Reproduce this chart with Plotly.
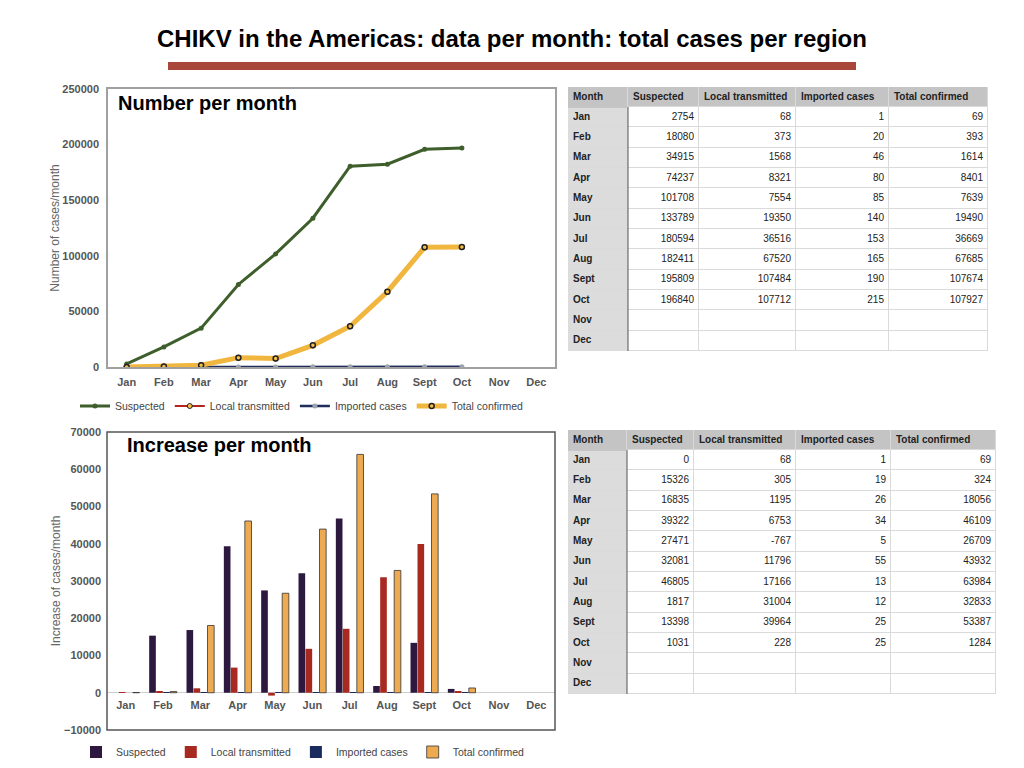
import plotly.graph_objects as go

MONTHS = ["Jan", "Feb", "Mar", "Apr", "May", "Jun", "Jul", "Aug", "Sept", "Oct", "Nov", "Dec"]
SERIES = ["Suspected", "Local transmitted", "Imported cases", "Total confirmed"]

# cumulative numbers per month
suspected = [2754, 18080, 34915, 74237, 101708, 133789, 180594, 182411, 195809, 196840, None, None]
local_tx = [68, 373, 1568, 8321, 7554, 19350, 36516, 67520, 107484, 107712, None, None]
imported = [1, 20, 46, 80, 85, 140, 153, 165, 190, 215, None, None]
total_conf = [69, 393, 1614, 8401, 7639, 19490, 36669, 67685, 107674, 107927, None, None]

# increase per month
inc_suspected = [0, 15326, 16835, 39322, 27471, 32081, 46805, 1817, 13398, 1031, None, None]
inc_local_tx = [68, 305, 1195, 6753, -767, 11796, 17166, 31004, 39964, 228, None, None]
inc_imported = [1, 19, 26, 34, 5, 55, 13, 12, 25, 25, None, None]
inc_total_conf = [69, 324, 18056, 46109, 26709, 43932, 63984, 32833, 53387, 1284, None, None]

FONT = "Liberation Sans, Arial, sans-serif"
TICK_FONT = dict(family=FONT, size=11, color="#555555", weight="bold")
AXIS_TITLE_FONT = dict(family=FONT, size=12, color="#666666")

# page body has an 8px margin, so the figure is a bit smaller than the window
OFF = 8
FIG_W, FIG_H = 1024 - OFF, 768 - OFF


def px_x(p):
    return (p - OFF) / FIG_W


def px_y(p):
    return 1 - (p - OFF) / FIG_H


fig = go.Figure()

# top chart: number per month
line_styles = [
    (suspected, dict(color="#3e5e2b", width=3), dict(size=5, color="#3e5e2b")),
    (local_tx, dict(color="#b4261b", width=2), dict(size=5, color="#f4c04a", line=dict(color="#222", width=1))),
    (imported, dict(color="#1f2d5c", width=2.5), dict(size=5, color="#9ea4ad")),
    (total_conf, dict(color="#f0b63e", width=5), dict(size=5, color="#f4c04a", line=dict(color="#222", width=1.5))),
]
for name, (vals, ln, mk) in zip(SERIES, line_styles):
    fig.add_trace(go.Scatter(
        x=MONTHS, y=vals, name=name, mode="lines+markers", line=ln, marker=mk,
        xaxis="x", yaxis="y", legend="legend",
    ))

# bottom chart: increase per month
bar_colors = ["#2d1840", "#a8291f", "#1b2b5e", "#eeaa50"]
bar_vals = [inc_suspected, inc_local_tx, inc_imported, inc_total_conf]
for name, vals, col in zip(SERIES, bar_vals, bar_colors):
    fig.add_trace(go.Bar(
        x=MONTHS, y=vals, name=name, marker_color=col,
        marker_line=dict(color="#333333", width=0.8 if name == "Total confirmed" else 0),
        xaxis="x2", yaxis="y2", legend="legend2",
    ))


def add_table(cols, widths, ax, head_h=20, row_h=20.33):
    """Table drawn on its own axes: one axis unit = one pixel."""
    xs = [0]
    for w in widths:
        xs.append(xs[-1] + w)
    ys = [0, head_h]
    for _ in MONTHS:
        ys.append(ys[-1] + row_h)
    xa, ya = "x" + ax, "y" + ax
    # grid colour showing through the gaps of the cell layer
    fig.add_trace(go.Heatmap(
        z=[[0]], x=[0, xs[-1]], y=[0, ys[-1]], colorscale=[[0, "#dadada"], [1, "#dadada"]],
        showscale=False, hoverinfo="skip", xaxis=xa, yaxis=ya,
    ))
    z = [[0] * len(widths)]
    for _ in MONTHS:
        z.append([1] + [2] * (len(widths) - 1))
    fig.add_trace(go.Heatmap(
        z=z, x=xs, y=ys, zmin=0, zmax=2, xgap=1, ygap=1, showscale=False, hoverinfo="skip",
        colorscale=[[0, "#c4c4c4"], [0.33, "#c4c4c4"], [0.34, "#dcdcdc"], [0.66, "#dcdcdc"],
                    [0.67, "white"], [1, "white"]],
        xaxis=xa, yaxis=ya,
    ))
    tx, ty, tt, tp = [], [], [], []
    for j, h in enumerate(["Month"] + SERIES):
        tx.append(xs[j] + 5)
        ty.append(head_h / 2)
        tt.append("<b>%s</b>" % h)
        tp.append("middle right")
    for i, m in enumerate(MONTHS):
        yc = (ys[i + 1] + ys[i + 2]) / 2
        tx.append(5)
        ty.append(yc)
        tt.append("<b>%s</b>" % m)
        tp.append("middle right")
        for j, c in enumerate(cols):
            if c[i] is None:
                continue
            tx.append(xs[j + 2] - 5)
            ty.append(yc)
            tt.append(str(c[i]))
            tp.append("middle left")
    fig.add_trace(go.Scatter(
        x=tx, y=ty, text=tt, mode="text", textposition=tp, hoverinfo="skip", showlegend=False,
        textfont=dict(family=FONT, size=10, color="#222222"), xaxis=xa, yaxis=ya,
    ))
    fig.add_shape(type="line", xref=xa, yref=ya, x0=xs[1], x1=xs[1], y0=head_h, y1=ys[-1],
                  line=dict(color="#555555", width=1))
    fig.add_shape(type="line", xref=xa, yref=ya, x0=0, x1=xs[1], y0=head_h, y1=head_h,
                  line=dict(color="#b0b0b0", width=1))
    return xs[-1], ys[-1]


tw3, th3 = add_table([suspected, local_tx, imported, total_conf], [60, 71, 97, 93, 99], "3")
tw4, th4 = add_table([inc_suspected, inc_local_tx, inc_imported, inc_total_conf], [59, 67, 102, 95, 105], "4")

table_axis = dict(showgrid=False, zeroline=False, showline=False, showticklabels=False, ticks="", fixedrange=True)

fig.update_layout(
    width=FIG_W, height=FIG_H,
    margin=dict(l=0, r=0, t=0, b=0, autoexpand=False),
    paper_bgcolor="white", plot_bgcolor="white",
    font=dict(family=FONT, color="#333333"),
    showlegend=True,
    barmode="group", bargap=0.25, bargroupgap=0.05,
    xaxis=dict(
        domain=[px_x(108), px_x(555)], anchor="y", type="category", categoryorder="array",
        categoryarray=MONTHS, range=[-0.5, 11.5], showgrid=False, showline=True, mirror=True,
        linecolor="#a0a0a0", linewidth=1.5, ticks="", tickfont=TICK_FONT, ticklabelstandoff=4,
    ),
    yaxis=dict(
        domain=[px_y(367), px_y(89)], anchor="x", range=[0, 250000], dtick=50000, tickformat="d",
        showgrid=False, zeroline=False, showline=True, mirror=True, linecolor="#a0a0a0", linewidth=1.5,
        tickfont=TICK_FONT, ticklabelstandoff=5,
        title=dict(text="Number of cases/month", font=AXIS_TITLE_FONT, standoff=0),
    ),
    xaxis2=dict(
        domain=[px_x(107), px_x(555)], anchor="free", position=px_y(693), type="category",
        categoryorder="array", categoryarray=MONTHS, range=[-0.5, 11.5], showgrid=False,
        showline=False, ticks="", tickfont=TICK_FONT, ticklabelstandoff=4,
    ),
    yaxis2=dict(
        domain=[px_y(730), px_y(432)], anchor="x2", range=[-10000, 70000], dtick=10000, tickformat="d",
        showgrid=False, zeroline=True, zerolinecolor="#cfcfcf", zerolinewidth=1, showline=False,
        tickfont=TICK_FONT, ticklabelstandoff=5,
        title=dict(text="Increase of cases/month", font=AXIS_TITLE_FONT, standoff=0),
    ),
    xaxis3=dict(table_axis, domain=[px_x(568), px_x(568 + tw3)], anchor="y3", range=[0, tw3]),
    yaxis3=dict(table_axis, domain=[px_y(87 + th3), px_y(87)], anchor="x3", range=[th3, 0]),
    xaxis4=dict(table_axis, domain=[px_x(568), px_x(568 + tw4)], anchor="y4", range=[0, tw4]),
    yaxis4=dict(table_axis, domain=[px_y(430 + th4), px_y(430)], anchor="x4", range=[th4, 0]),
    legend=dict(
        orientation="h", x=px_x(302), y=px_y(406), xanchor="center", yanchor="middle",
        font=dict(family=FONT, size=10.5, color="#444444"), itemwidth=30, tracegroupgap=0,
        bgcolor="rgba(0,0,0,0)",
    ),
    legend2=dict(
        orientation="h", x=px_x(303), y=px_y(752), xanchor="center", yanchor="middle",
        font=dict(family=FONT, size=10.5, color="#444444"), itemwidth=30,
        bgcolor="rgba(0,0,0,0)",
    ),
    annotations=[
        dict(text="<b>CHIKV in the Americas: data per month: total cases per region</b>",
             x=px_x(512), y=px_y(38), xref="paper", yref="paper", xanchor="center", yanchor="middle",
             showarrow=False,
             font=dict(family="Liberation Sans Narrow, Liberation Sans, Arial", size=24, color="black")),
        dict(text="<b>Number per month</b>", x=px_x(116), y=px_y(103), xref="paper", yref="paper",
             xanchor="left", yanchor="middle", showarrow=False,
             font=dict(family=FONT, size=20, color="black")),
        dict(text="<b>Increase per month</b>", x=px_x(125), y=px_y(445), xref="paper", yref="paper",
             xanchor="left", yanchor="middle", showarrow=False,
             font=dict(family=FONT, size=20, color="black")),
    ],
)
fig.add_shape(type="line", xref="paper", yref="paper", x0=px_x(168), x1=px_x(856), y0=px_y(66), y1=px_y(66),
              line=dict(color="#a8473a", width=8))
fig.add_shape(type="rect", xref="x2 domain", yref="y2 domain", x0=0, x1=1, y0=0, y1=1,
              line=dict(color="#555555", width=1.5))

fig.write_html("out.html")
